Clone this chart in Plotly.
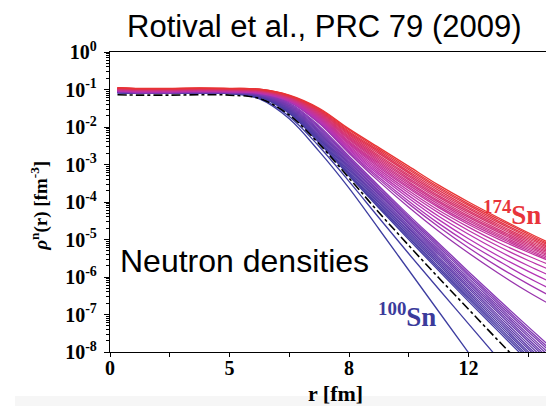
import colorsys
import plotly.graph_objects as go

# r grid [fm] used for every density curve
r_fm = [0.25, 1, 2, 3, 4, 5, 6, 7, 8, 9, 10, 11, 12, 13, 14, 15]

# log10 of neutron density [fm^-3], 100Sn ... 132Sn
logrho_100 = [-1.08, -1.10, -1.10, -1.09, -1.10, -1.25, -1.78, -2.65, -3.63, -4.72, -5.82, -6.92, -8.02, -9.12]
logrho_102 = [-1.08, -1.10, -1.10, -1.09, -1.10, -1.23, -1.72, -2.52, -3.45, -4.42, -5.38, -6.32, -7.25, -8.18]
logrho_104 = [-1.08, -1.10, -1.10, -1.09, -1.10, -1.20, -1.64, -2.42, -3.30, -4.16, -5.00, -5.83, -6.65, -7.45, -8.25]
logrho_106 = [-1.08, -1.10, -1.10, -1.09, -1.10, -1.19, -1.62, -2.39, -3.26, -4.12, -4.95, -5.78, -6.59, -7.39, -8.18]
logrho_108 = [-1.08, -1.10, -1.10, -1.09, -1.10, -1.19, -1.60, -2.36, -3.23, -4.08, -4.91, -5.73, -6.54, -7.33, -8.12]
logrho_110 = [-1.08, -1.10, -1.10, -1.09, -1.10, -1.18, -1.58, -2.32, -3.19, -4.03, -4.86, -5.67, -6.48, -7.27, -8.05]
logrho_112 = [-1.07, -1.09, -1.09, -1.08, -1.09, -1.18, -1.56, -2.29, -3.15, -3.99, -4.81, -5.62, -6.42, -7.21, -7.99, -8.76]
logrho_114 = [-1.07, -1.09, -1.09, -1.08, -1.09, -1.17, -1.54, -2.26, -3.11, -3.95, -4.77, -5.57, -6.37, -7.15, -7.92, -8.69]
logrho_116 = [-1.07, -1.09, -1.09, -1.08, -1.09, -1.17, -1.52, -2.23, -3.08, -3.91, -4.72, -5.52, -6.31, -7.09, -7.86, -8.62]
logrho_118 = [-1.07, -1.09, -1.09, -1.08, -1.09, -1.16, -1.50, -2.20, -3.04, -3.87, -4.68, -5.47, -6.26, -7.03, -7.79, -8.55]
logrho_120 = [-1.07, -1.09, -1.09, -1.08, -1.09, -1.15, -1.48, -2.16, -3.00, -3.82, -4.63, -5.41, -6.20, -6.96, -7.72, -8.48]
logrho_122 = [-1.07, -1.09, -1.09, -1.08, -1.09, -1.15, -1.46, -2.13, -2.97, -3.78, -4.58, -5.36, -6.14, -6.90, -7.66, -8.41]
logrho_124 = [-1.06, -1.08, -1.08, -1.07, -1.08, -1.14, -1.44, -2.10, -2.93, -3.74, -4.54, -5.31, -6.09, -6.84, -7.59, -8.34]
logrho_126 = [-1.06, -1.08, -1.08, -1.07, -1.08, -1.14, -1.42, -2.07, -2.89, -3.70, -4.49, -5.26, -6.03, -6.78, -7.53, -8.26]
logrho_128 = [-1.06, -1.08, -1.08, -1.07, -1.08, -1.13, -1.40, -2.03, -2.85, -3.65, -4.44, -5.20, -5.97, -6.72, -7.46, -8.19]
logrho_130 = [-1.06, -1.08, -1.08, -1.07, -1.08, -1.13, -1.38, -2.00, -2.82, -3.61, -4.40, -5.15, -5.92, -6.66, -7.40, -8.12]
logrho_132 = [-1.06, -1.08, -1.08, -1.07, -1.08, -1.12, -1.36, -1.97, -2.78, -3.57, -4.35, -5.10, -5.86, -6.60, -7.33, -8.05]

# 134Sn ... 174Sn (halo tails)
logrho_134 = [-1.050, -1.070, -1.070, -1.060, -1.070, -1.11, -1.33, -1.90, -2.70, -3.45, -4.14, -4.78, -5.36, -5.90, -6.40, -6.85]
logrho_136 = [-1.045, -1.065, -1.065, -1.055, -1.065, -1.10, -1.32, -1.88, -2.67, -3.39, -4.05, -4.66, -5.22, -5.73, -6.19, -6.62]
logrho_138 = [-1.040, -1.060, -1.060, -1.050, -1.060, -1.10, -1.31, -1.86, -2.64, -3.34, -3.98, -4.57, -5.10, -5.57, -6.02, -6.42]
logrho_140 = [-1.035, -1.055, -1.055, -1.045, -1.055, -1.09, -1.30, -1.84, -2.60, -3.28, -3.90, -4.47, -4.98, -5.44, -5.85, -6.23]
logrho_142 = [-1.030, -1.050, -1.050, -1.040, -1.050, -1.09, -1.29, -1.82, -2.57, -3.23, -3.83, -4.38, -4.86, -5.30, -5.70, -6.06]
logrho_144 = [-1.025, -1.045, -1.045, -1.035, -1.045, -1.08, -1.29, -1.80, -2.54, -3.18, -3.76, -4.29, -4.76, -5.18, -5.56, -5.90]
logrho_146 = [-1.020, -1.040, -1.040, -1.030, -1.040, -1.07, -1.28, -1.78, -2.51, -3.13, -3.70, -4.22, -4.67, -5.08, -5.44, -5.77]
logrho_148 = [-1.015, -1.035, -1.035, -1.025, -1.035, -1.07, -1.27, -1.76, -2.47, -3.08, -3.64, -4.15, -4.60, -4.99, -5.34, -5.66]
logrho_150 = [-1.010, -1.030, -1.030, -1.020, -1.030, -1.06, -1.26, -1.74, -2.44, -3.04, -3.60, -4.11, -4.55, -4.94, -5.30, -5.63]
logrho_152 = [-1.005, -1.025, -1.025, -1.015, -1.025, -1.06, -1.25, -1.72, -2.41, -3.00, -3.55, -4.06, -4.50, -4.90, -5.26, -5.59]
logrho_154 = [-1.000, -1.020, -1.020, -1.010, -1.020, -1.05, -1.24, -1.70, -2.38, -2.96, -3.50, -4.01, -4.46, -4.86, -5.22, -5.55]
logrho_156 = [-0.995, -1.015, -1.015, -1.005, -1.015, -1.04, -1.23, -1.68, -2.34, -2.92, -3.46, -3.97, -4.41, -4.81, -5.18, -5.52]
logrho_158 = [-0.990, -1.010, -1.010, -1.000, -1.010, -1.04, -1.22, -1.66, -2.31, -2.88, -3.41, -3.92, -4.37, -4.77, -5.14, -5.48]
logrho_160 = [-0.985, -1.005, -1.005, -0.995, -1.005, -1.03, -1.21, -1.64, -2.28, -2.84, -3.37, -3.87, -4.32, -4.73, -5.10, -5.45]
logrho_162 = [-0.980, -1.000, -1.000, -0.990, -1.000, -1.03, -1.20, -1.62, -2.25, -2.80, -3.32, -3.83, -4.27, -4.68, -5.06, -5.41]
logrho_164 = [-0.975, -0.995, -0.995, -0.985, -0.995, -1.02, -1.20, -1.60, -2.21, -2.76, -3.28, -3.78, -4.23, -4.64, -5.02, -5.38]
logrho_166 = [-0.970, -0.990, -0.990, -0.980, -0.990, -1.01, -1.19, -1.58, -2.18, -2.71, -3.23, -3.74, -4.18, -4.60, -4.98, -5.34]
logrho_168 = [-0.965, -0.985, -0.985, -0.975, -0.985, -1.01, -1.18, -1.56, -2.15, -2.67, -3.19, -3.69, -4.14, -4.55, -4.94, -5.31]
logrho_170 = [-0.960, -0.980, -0.980, -0.970, -0.980, -1.00, -1.17, -1.54, -2.12, -2.63, -3.14, -3.64, -4.09, -4.51, -4.90, -5.27]
logrho_172 = [-0.955, -0.975, -0.975, -0.965, -0.975, -0.99, -1.16, -1.52, -2.08, -2.59, -3.10, -3.60, -4.05, -4.46, -4.86, -5.24]
logrho_174 = [-0.950, -0.970, -0.970, -0.960, -0.970, -0.99, -1.15, -1.50, -2.05, -2.55, -3.05, -3.55, -4.00, -4.42, -4.82, -5.20]

# black dash-dot reference curve
logrho_ref = [-1.14, -1.15, -1.15, -1.14, -1.15, -1.24, -1.68, -2.45, -3.36, -4.28, -5.16, -6.02, -6.86, -7.70, -8.52]

mass_numbers = list(range(100, 176, 2))
curves = [
    logrho_100, logrho_102, logrho_104, logrho_106, logrho_108, logrho_110, logrho_112,
    logrho_114, logrho_116, logrho_118, logrho_120, logrho_122, logrho_124, logrho_126,
    logrho_128, logrho_130, logrho_132, logrho_134, logrho_136, logrho_138, logrho_140,
    logrho_142, logrho_144, logrho_146, logrho_148, logrho_150, logrho_152, logrho_154,
    logrho_156, logrho_158, logrho_160, logrho_162, logrho_164, logrho_166, logrho_168,
    logrho_170, logrho_172, logrho_174,
]

x_tickvals = [0, 4, 8, 12]
x_ticktext = ["0", "5", "8", "12"]
y_exponents = [0, -1, -2, -3, -4, -5, -6, -7, -8]

SERIF = "Liberation Serif"
SANS = "Liberation Sans"


def curve_color(a):
    """Blue -> violet up to 132Sn, then purple -> red up to 174Sn."""
    if a <= 132:
        t = (a - 100) / 32
        hue, sat, val = 240 + 38 * t, 0.62 + 0.06 * t, 0.63 + 0.08 * t
    else:
        t = (a - 134) / 40
        hue, sat, val = 290 + 70 * t, 0.70 + 0.08 * t, 0.68 + 0.23 * t
    r, g, b = colorsys.hsv_to_rgb(hue / 360 % 1.0, sat, val)
    return f"rgb({int(r * 255)},{int(g * 255)},{int(b * 255)})"


fig = go.Figure()

for a, vals in zip(mass_numbers, curves):
    fig.add_trace(go.Scatter(
        x=r_fm[:len(vals)], y=[10 ** v for v in vals],
        mode="lines", name=f"{a}Sn", line=dict(color=curve_color(a), width=1.3, shape="spline"),
        showlegend=False,
    ))
    # draw the dash-dot curve among the light ones
    if a == 104:
        fig.add_trace(go.Scatter(
            x=r_fm[:len(logrho_ref)], y=[10 ** v for v in logrho_ref],
            mode="lines", line=dict(color="black", width=1.6, dash="dashdot", shape="spline"),
            showlegend=False,
        ))

# Axes
fig.update_xaxes(
    range=[0, 14.86], tickmode="array", tickvals=x_tickvals, ticktext=x_ticktext,
    ticks="outside", ticklen=4, tickwidth=1.2, tickcolor="black", ticklabelstandoff=-6,
    minor=dict(tickmode="linear", tick0=0, dtick=2, ticks="outside", ticklen=4, tickcolor="black"),
    showline=True, linecolor="black", linewidth=1.3, mirror=True,
    showgrid=False, zeroline=False,
    tickfont=dict(family=SERIF, size=20, color="black", weight="bold"),
)
fig.update_yaxes(
    type="log", range=[-8, 0],
    tickmode="array", tickvals=[10 ** e for e in y_exponents],
    ticktext=[f"<b>10<sup>{e}</sup></b>" for e in y_exponents],
    ticks="outside", ticklen=5, tickwidth=1.2, tickcolor="black", ticklabelstandoff=3,
    minor=dict(dtick="D1", ticks="outside", ticklen=3, tickcolor="black"),
    showline=True, linecolor="black", linewidth=1.3,
    showgrid=False, zeroline=False,
    tickfont=dict(family=SERIF, size=20, color="black"),
)

annotations = [
    dict(text="Rotival et al., PRC 79 (2009)", x=0.482, y=1.085, font=dict(family=SANS, size=31, color="black")),
    dict(text="Neutron densities", x=0.302, y=0.305, font=dict(family=SANS, size=32, color="black")),
    dict(text="<b><sup>174</sup>Sn</b>", x=0.836, y=0.463, xanchor="left",
         font=dict(family=SERIF, size=27, color="#e8343a")),
    dict(text="<b><sup>100</sup>Sn</b>", x=0.598, y=0.125, xanchor="left",
         font=dict(family=SERIF, size=27, color="#3b3b9b")),
    dict(text="<b>r [fm]</b>", x=0.507, y=-0.137, font=dict(family=SERIF, size=22, color="black")),
    dict(text="<b><i>ρ</i><sup>n</sup>(r) [fm<sup>-3</sup>]</b>", x=-0.158, y=0.487, textangle=-90,
         font=dict(family=SERIF, size=19, color="black")),
]
for ann in annotations:
    ann.setdefault("xanchor", "center")
    ann.setdefault("yanchor", "middle")
    ann.update(xref="paper", yref="paper", showarrow=False)

# the page puts the figure 8 px in from the top-left corner, so size it to the visible window
fig.update_layout(
    width=546, height=398,
    margin=dict(l=102, r=0, t=44, b=54),
    paper_bgcolor="white", plot_bgcolor="white",
    annotations=annotations,
    shapes=[dict(type="rect", xref="paper", yref="paper", x0=-0.214, x1=1.0, y0=-0.18, y1=-0.147,
                 fillcolor="#f6f6f6", line=dict(width=0), layer="below")],
)

fig.write_html("out.html")
